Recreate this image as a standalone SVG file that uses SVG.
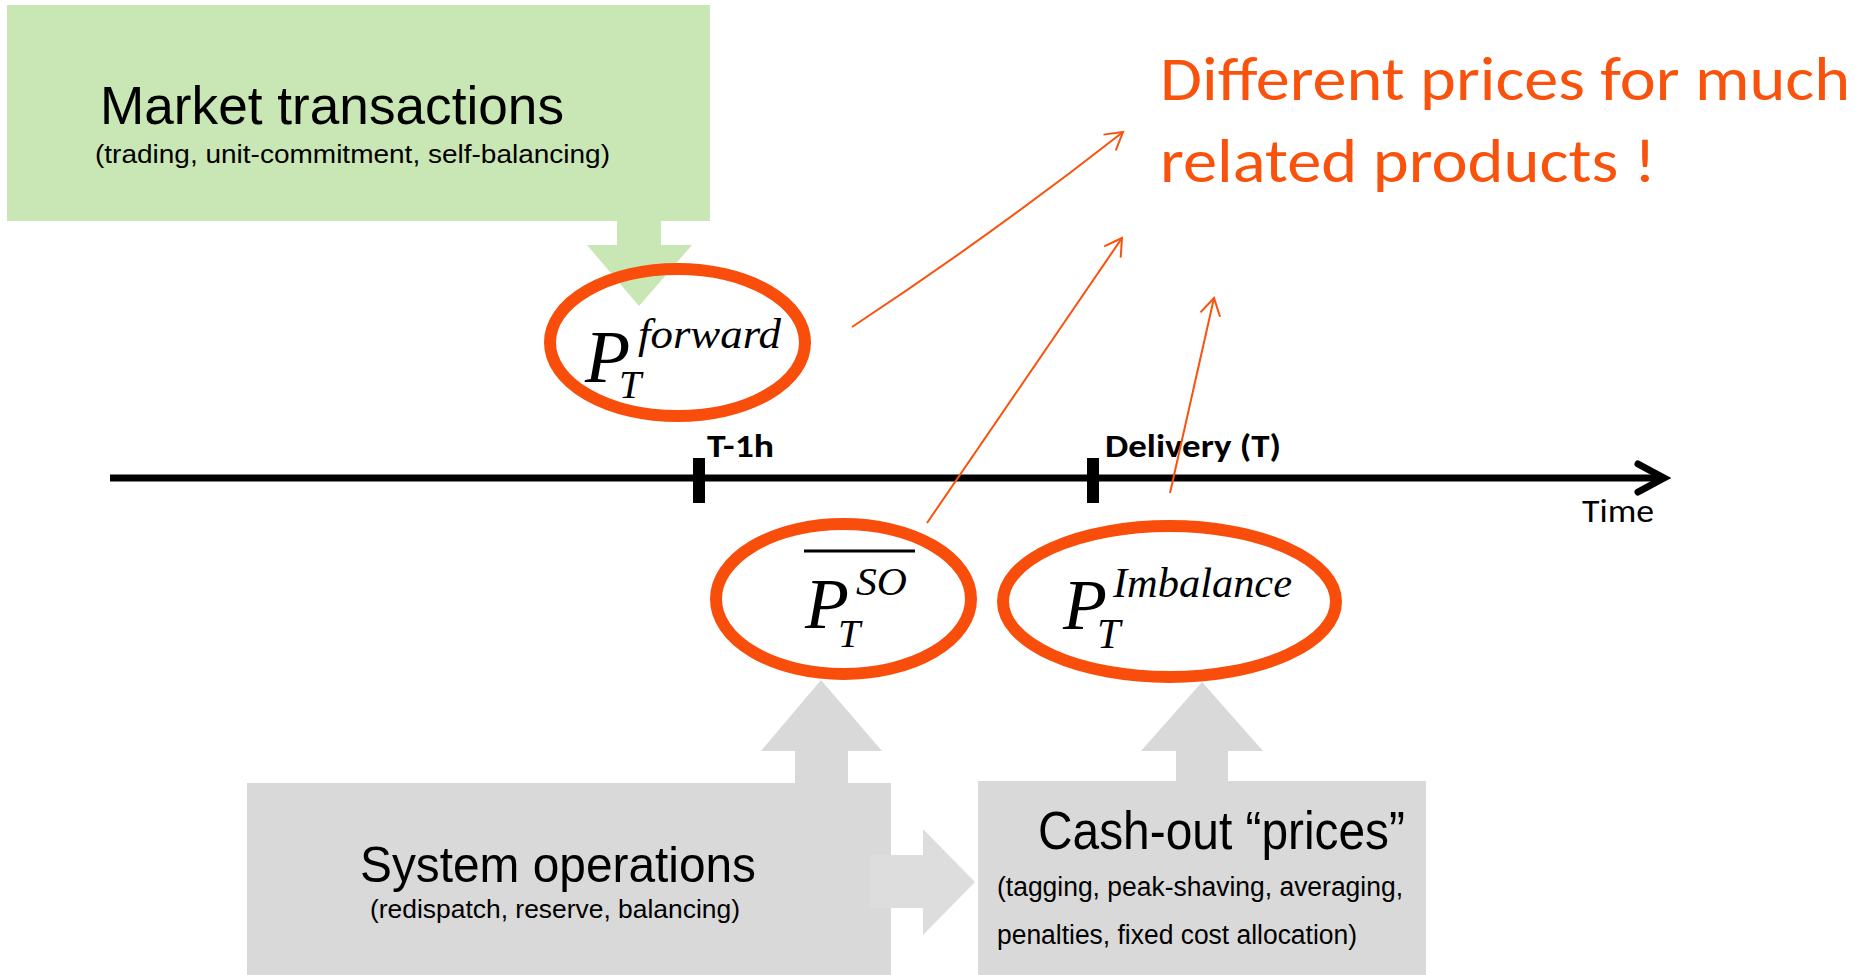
<svg xmlns="http://www.w3.org/2000/svg" width="1864" height="975" viewBox="0 0 1864 975">
  <defs>
    <style>
      .sans { font-family: "Liberation Sans", Arial, sans-serif; fill: #000; }
      .cal { font-family: Carlito, "Open Sans", sans-serif; }
      .math { font-family: "Liberation Serif", "Times New Roman", serif; font-style: italic; fill: #000; }
      .orange-text { fill: #F9520D; }
      .ell { fill: none; stroke: #F94E0B; stroke-width: 12; }
      .green { fill: #C9E6B5; }
      .gray { fill: #D9D9D9; }
      .pointer { fill: none; stroke: #F9520D; stroke-width: 2; marker-end: url(#openArrow); }
    </style>
    <marker id="openArrow" markerUnits="userSpaceOnUse" markerWidth="40" markerHeight="40" refX="0" refY="0" orient="auto" overflow="visible">
      <path d="M -17 -10 L 0 0 L -17 10" fill="none" stroke="#F9520D" stroke-width="2"/>
    </marker>
  </defs>
  <rect width="1864" height="975" fill="#fff"/>

  <g id="market-transactions">
    <rect class="green" x="7" y="5" width="703" height="216"/>
    <polygon class="green" points="617,220 661,220 661,245 692,245 639,306 587,245 617,245"/>
    <text class="sans" x="100" y="124" font-size="53" textLength="464" lengthAdjust="spacingAndGlyphs">Market transactions</text>
    <text class="sans" x="95" y="163" font-size="26" textLength="515" lengthAdjust="spacingAndGlyphs">(trading, unit-commitment, self-balancing)</text>
  </g>

  <g id="system-operations">
    <rect class="gray" x="247" y="783" width="644" height="192"/>
    <polygon class="gray" points="821,680 882,751 848,751 848,784 795,784 795,751 761,751"/>
    <text class="sans" x="360" y="882" font-size="50" textLength="396" lengthAdjust="spacingAndGlyphs">System operations</text>
    <text class="sans" x="370" y="918" font-size="26" textLength="370" lengthAdjust="spacingAndGlyphs">(redispatch, reserve, balancing)</text>
  </g>

  <g id="cash-out">
    <rect class="gray" x="978" y="781" width="448" height="194"/>
    <polygon class="gray" points="1202,682 1263,751 1228,751 1228,782 1176,782 1176,751 1141,751"/>
    <text class="sans" x="1038" y="849" font-size="53" textLength="367" lengthAdjust="spacingAndGlyphs">Cash-out “prices”</text>
    <text class="sans" x="997" y="896" font-size="27" textLength="406" lengthAdjust="spacingAndGlyphs">(tagging, peak-shaving, averaging,</text>
    <text class="sans" x="997" y="944" font-size="27" textLength="360" lengthAdjust="spacingAndGlyphs">penalties, fixed cost allocation)</text>
  </g>

  <g id="headline">
    <text class="cal orange-text" x="1160" y="100" font-size="62" textLength="690" lengthAdjust="spacingAndGlyphs">Different prices for much</text>
    <text class="cal orange-text" x="1160" y="182" font-size="62" textLength="496" lengthAdjust="spacingAndGlyphs">related products !</text>
  </g>

  <g id="timeline">
    <line x1="110" y1="478" x2="1662" y2="478" stroke="#000" stroke-width="7"/>
    <polyline points="1638,464 1664,478 1638,492" fill="none" stroke="#000" stroke-width="7" stroke-linecap="round" stroke-linejoin="miter"/>
    <rect x="693" y="458" width="12" height="45" fill="#000"/>
    <rect x="1087" y="458" width="12" height="45" fill="#000"/>
    <text class="cal" x="707" y="457" font-size="32" font-weight="bold" textLength="67" lengthAdjust="spacingAndGlyphs">T-1h</text>
    <text class="cal" x="1105" y="457" font-size="32" font-weight="bold" textLength="176" lengthAdjust="spacingAndGlyphs">Delivery (T)</text>
    <text class="cal" x="1582" y="522" font-size="32" textLength="72" lengthAdjust="spacingAndGlyphs">Time</text>
  </g>

  <g id="p-forward">
    <ellipse class="ell" cx="677.5" cy="342.5" rx="127.5" ry="73.5"/>
    <text class="math" x="585" y="382" font-size="74">P</text>
    <text class="math" x="619" y="398" font-size="40">T</text>
    <text class="math" x="638" y="348" font-size="42" textLength="143" lengthAdjust="spacingAndGlyphs">forward</text>
  </g>

  <g id="p-so">
    <ellipse class="ell" cx="843.5" cy="599" rx="127.5" ry="75"/>
    <line x1="804" y1="551" x2="915" y2="551" stroke="#000" stroke-width="3"/>
    <text class="math" x="805" y="628" font-size="72">P</text>
    <text class="math" x="856" y="595" font-size="40" textLength="51" lengthAdjust="spacingAndGlyphs">SO</text>
    <text class="math" x="838" y="647" font-size="40">T</text>
  </g>

  <g id="p-imbalance">
    <ellipse class="ell" cx="1169.5" cy="601.5" rx="166.5" ry="75.5"/>
    <text class="math" x="1063" y="629" font-size="72">P</text>
    <text class="math" x="1113" y="597" font-size="42" textLength="179" lengthAdjust="spacingAndGlyphs">Imbalance</text>
    <text class="math" x="1097" y="648" font-size="42">T</text>
  </g>

  <g id="connectors">
    <polygon points="870,855 923,855 923,829 975,882 923,935 923,908 870,908" fill="#DDDDDD"/>
    <path class="pointer" d="M 852 327 Q 993 234 1123 132"/>
    <path class="pointer" d="M 927 523 L 1122 238"/>
    <path class="pointer" d="M 1170 493 L 1214 298"/>
  </g>
</svg>
